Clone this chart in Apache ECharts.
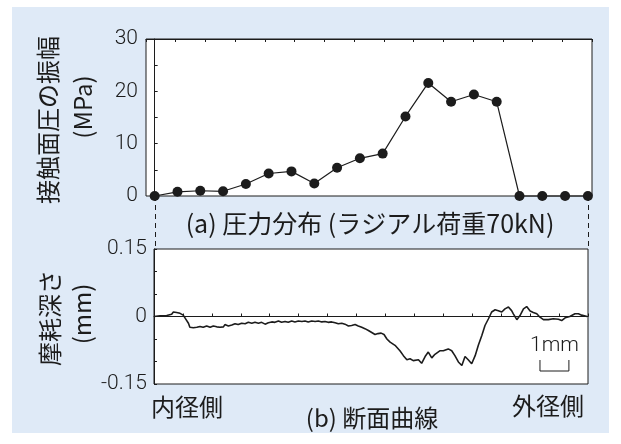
<!DOCTYPE html>
<html>
<head>
<meta charset="utf-8">
<script src="https://cdn.jsdelivr.net/npm/echarts@6/dist/echarts.min.js"></script>
<style>
html,body{margin:0;padding:0;background:#fff;}
#panel{position:absolute;left:12px;top:7px;width:597px;height:426px;background:#dfeaf7;}
#root{position:absolute;left:0;top:0;width:621px;height:444px;}
</style>
</head>
<body>
<div id="panel"></div>
<div id="root"></div>
<script>
// (a) pressure amplitude at each sensor position
var pressPos = [0,1,2,3,4,5,6,7,8,9,10,11,12,13,14,15,16,17,18,19];
var pressVal = [0,0.8,1.0,0.9,2.3,4.3,4.7,2.4,5.4,7.2,8.1,15.2,21.6,18.0,19.4,18.0,0,0,0,0];
var topYTicks = [0,10,20,30];

// (b) wear profile, x in mm from inner side, depth in mm
var profX = [0.00,0.21,0.44,0.61,0.67,0.73,0.78,0.84,0.90,0.96,1.01,1.07,1.19,1.24,1.36,1.48,1.59,1.70,1.82,1.94,
  2.05,2.17,2.28,2.40,2.45,2.57,2.69,2.80,2.91,3.03,3.15,3.26,3.38,3.49,3.61,3.72,3.84,3.95,4.07,4.18,
  4.30,4.41,4.53,4.64,4.76,4.87,4.99,5.11,5.22,5.33,5.45,5.57,5.68,5.80,5.91,6.02,6.14,6.26,6.37,6.49,
  6.60,6.72,6.83,6.95,7.06,7.18,7.29,7.41,7.47,7.54,7.64,7.74,7.85,7.95,8.05,8.16,8.33,8.50,8.62,8.74,
  8.85,8.96,9.14,9.25,9.37,9.48,9.60,9.71,9.89,10.00,10.17,10.29,10.40,10.52,10.64,10.75,10.86,10.98,11.10,11.21,
  11.33,11.44,11.56,11.67,11.79,11.90,12.02,12.13,12.25,12.36,12.42,12.54,12.65,12.77,12.88,13.00,13.11,13.23,13.34,13.46,
  13.63,13.80,13.98,14.09,14.21,14.37,14.55,14.67,14.78,14.97];
var profY = [0.000,0.0015,0.002,0.005,0.010,0.011,0.009,0.006,0.007,0.006,0.003,-0.003,-0.015,-0.024,-0.025,-0.024,-0.022,-0.024,-0.021,-0.024,
  -0.021,-0.023,-0.024,-0.023,-0.018,-0.021,-0.019,-0.016,-0.018,-0.015,-0.016,-0.013,-0.015,-0.013,-0.015,-0.013,-0.017,-0.014,-0.012,-0.013,
  -0.010,-0.013,-0.011,-0.013,-0.010,-0.012,-0.010,-0.011,-0.010,-0.012,-0.010,-0.011,-0.010,-0.012,-0.011,-0.013,-0.012,-0.014,-0.016,-0.015,
  -0.017,-0.021,-0.020,-0.018,-0.021,-0.024,-0.027,-0.031,-0.035,-0.036,-0.040,-0.038,-0.037,-0.040,-0.050,-0.057,-0.064,-0.076,-0.087,-0.096,
  -0.094,-0.098,-0.096,-0.104,-0.089,-0.079,-0.092,-0.084,-0.076,-0.076,-0.072,-0.076,-0.087,-0.101,-0.109,-0.089,-0.096,-0.105,-0.087,-0.064,
  -0.042,-0.020,-0.005,0.010,0.015,0.013,0.010,0.017,0.021,0.013,0.006,-0.007,0.002,0.017,0.022,0.012,0.009,0.006,-0.0015,-0.007,
  -0.007,-0.005,-0.006,-0.009,-0.003,0.000,0.006,0.006,0.003,0.000];
var botYTicks = [-0.15,0,0.15];
var profTickCount = 15;

var ink = '#1c1c1c';
var jp = '"Noto Sans CJK JP", sans-serif';
var num = 'Roboto, "Liberation Sans", sans-serif';

var chart = echarts.init(document.getElementById('root'));

var tickStyle = {inside:true, length:3, lineStyle:{color:ink, width:1}};
var lineStyle = {show:true, lineStyle:{color:ink, width:1}};

chart.setOption({
  animation:false,
  grid:[
    {left:146, top:39, width:446, height:157, show:true, backgroundColor:'#fff', borderColor:ink, borderWidth:1},
    {left:154, top:249, width:434, height:135, show:true, backgroundColor:'#fff', borderColor:ink, borderWidth:1}
  ],
  xAxis:[
    {gridIndex:0, type:'value', min:-0.38, max:19.18, show:false},
    {gridIndex:0, type:'value', min:0, max:profTickCount, interval:1, axisLine:lineStyle, axisTick:tickStyle,
      axisLabel:{show:false}, splitLine:{show:false}},
    {gridIndex:1, type:'value', min:0, max:profTickCount, interval:1, axisLine:{show:true, onZero:true, lineStyle:{color:ink, width:1}},
      axisTick:tickStyle, axisLabel:{show:false}, splitLine:{show:false}}
  ],
  yAxis:[
    {gridIndex:0, type:'value', min:topYTicks[0], max:topYTicks[topYTicks.length-1], interval:topYTicks[1]-topYTicks[0],
      axisLine:lineStyle, axisTick:tickStyle, minorTick:{show:true, splitNumber:2, length:3, lineStyle:{color:ink}},
      splitLine:{show:false},
      axisLabel:{fontSize:21, fontFamily:num, fontWeight:300, color:ink, margin:8}},
    {gridIndex:1, type:'value', min:botYTicks[0], max:botYTicks[2], interval:botYTicks[2],
      axisLine:lineStyle, axisTick:tickStyle, minorTick:{show:true, splitNumber:3, length:3, lineStyle:{color:ink}},
      splitLine:{show:false},
      axisLabel:{fontSize:21, fontFamily:num, fontWeight:300, color:ink, margin:7,
        formatter:function(v){return Math.abs(v)<1e-9 ? '0' : v.toFixed(2);}}}
  ],
  series:[
    {type:'line', xAxisIndex:0, yAxisIndex:0, clip:false,
      data:pressPos.map(function(x,i){return [x,pressVal[i]];}),
      symbol:'circle', symbolSize:10, itemStyle:{color:ink}, lineStyle:{color:ink, width:1.2}},
    {type:'line', xAxisIndex:2, yAxisIndex:1, showSymbol:false, symbol:'none',
      data:profX.map(function(x,i){return [x,profY[i]];}),
      lineStyle:{color:ink, width:1.6}}
  ]
});

// dashed guides join the first/last sensor to the profile box
var a0 = chart.convertToPixel({seriesIndex:0}, [pressPos[0], 0]);
var a1 = chart.convertToPixel({seriesIndex:0}, [pressPos[pressPos.length-1], 0]);
var bTop = chart.convertToPixel({seriesIndex:1}, [0, botYTicks[2]]);
var s0 = chart.convertToPixel({seriesIndex:1}, [13.34, 0]);
var s1 = chart.convertToPixel({seriesIndex:1}, [14.34, 0]);
var gx0 = Math.round(a0[0]) + 0.5, gx1 = Math.round(a1[0]) + 0.5;

function txt(x, y, s, size, rot){
  return {type:'text', x:x, y:y, rotation:rot||0, z:10,
    style:{text:s, fontSize:size, fontFamily:jp, fill:ink, align:'center', verticalAlign:'middle'}};
}

chart.setOption({
  graphic:[
    {type:'line', z:10, shape:{x1:gx0, y1:a0[1], x2:gx0, y2:bTop[1]}, style:{stroke:ink, lineWidth:1, lineDash:[5,4]}},
    {type:'line', z:10, shape:{x1:gx1, y1:a1[1], x2:gx1, y2:bTop[1]}, style:{stroke:ink, lineWidth:1, lineDash:[5,4]}},
    {type:'polyline', z:10, shape:{points:[[s0[0],360],[s0[0],371],[s1[0],371],[s1[0],360]]}, style:{stroke:ink, lineWidth:1, fill:null}},
    {type:'text', x:(s0[0]+s1[0])/2, y:346, z:10,
      style:{text:'1mm', fontSize:21, fontFamily:num, fontWeight:300, fill:ink, align:'center', verticalAlign:'middle'}},
    txt(370, 223, '(a) 圧力分布 (ラジアル荷重70kN)', 25),
    txt(372, 418, '(b) 断面曲線', 24),
    txt(187, 407, '内径側', 24),
    txt(548, 406, '外径側', 24),
    txt(48, 120, '接触面圧の振幅', 24, Math.PI/2),
    txt(83, 107, '(MPa)', 24, Math.PI/2),
    txt(50, 318, '摩耗深さ', 24, Math.PI/2),
    txt(82, 314, '(mm)', 24, Math.PI/2)
  ]
});
</script>
</body>
</html>
